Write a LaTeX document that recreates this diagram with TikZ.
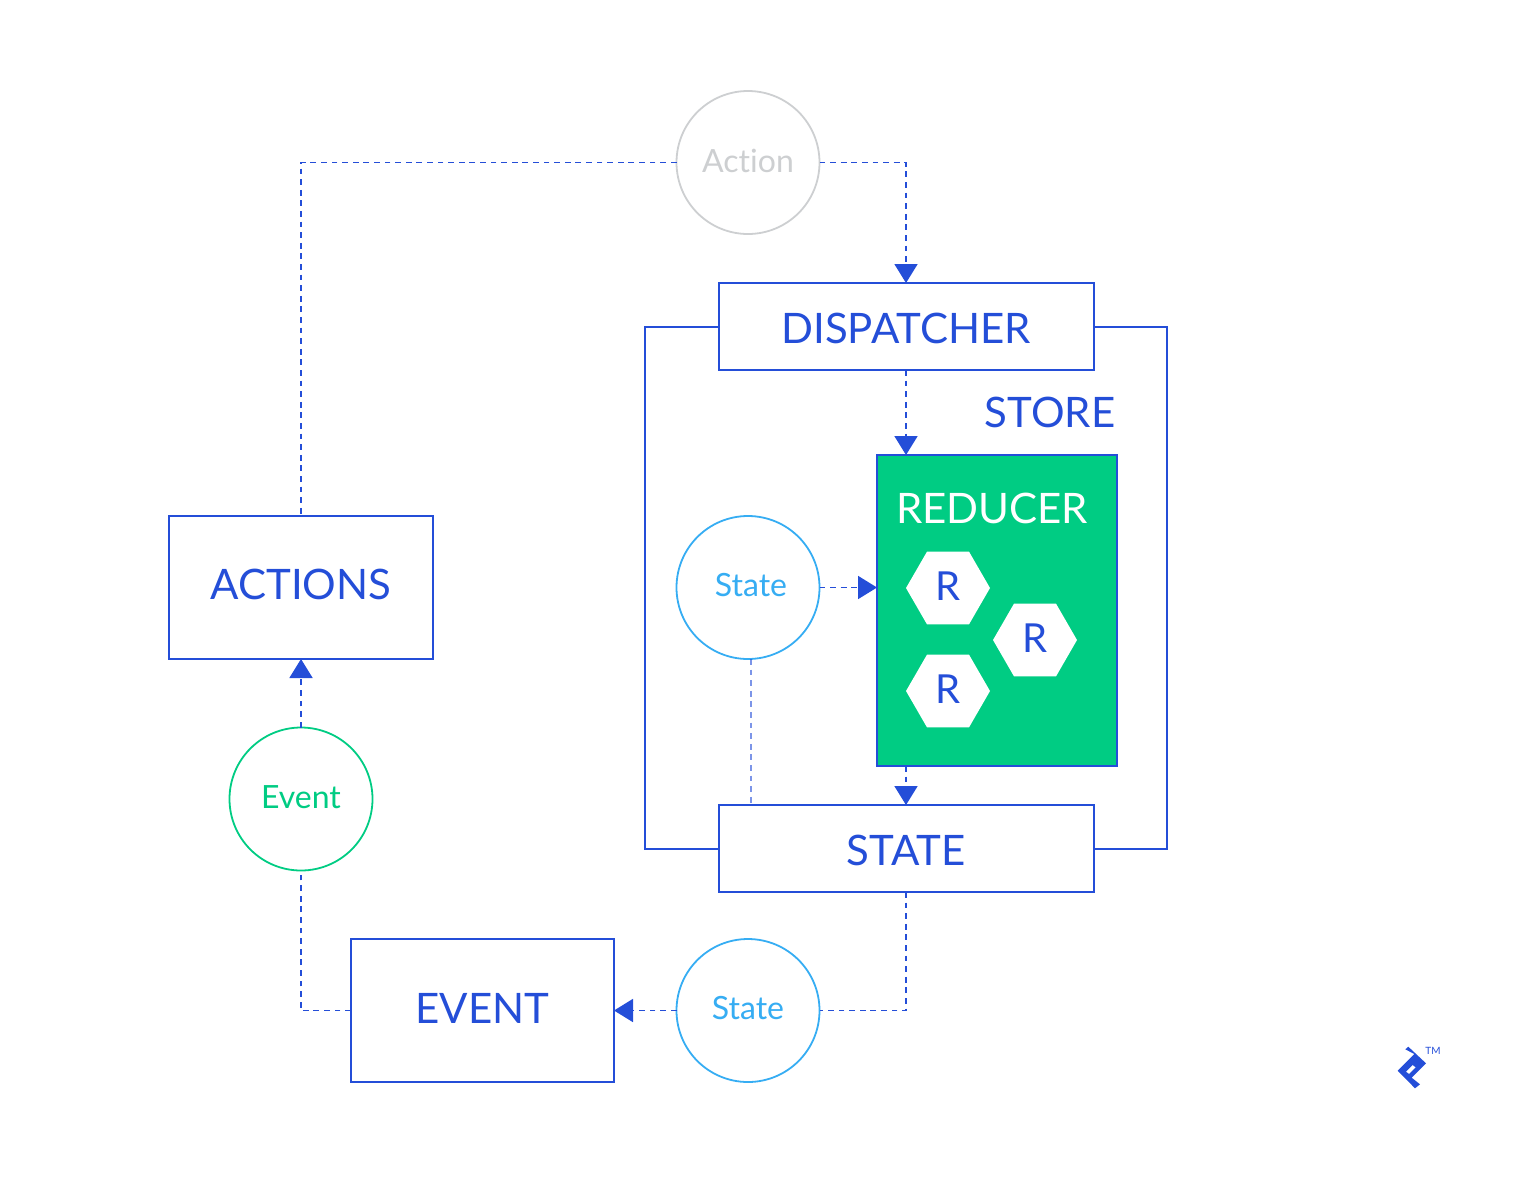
\documentclass[tikz,border=0pt]{standalone}
\usepackage{fontspec}
\setmainfont{Lato}[Ligatures=NoCommon]
\usetikzlibrary{positioning, arrows.meta, shapes.geometric}
\definecolor{fluxblue}{RGB}{36,78,216}
\definecolor{fluxgreen}{RGB}{0,204,131}
\definecolor{fluxsky}{RGB}{54,173,243}
\definecolor{fluxgrey}{RGB}{205,207,209}
% baseline of the text, measured down from the middle of its node
\newcommand{\seat}[2]{\raisebox{-#1}[0pt][0pt]{#2}}

\begin{document}
\begin{tikzpicture}[
    x=0.5pt, y=-0.5pt,
    >={Triangle[width=11.5pt,length=9.5pt]},
    flow/.style={draw=fluxblue, line width=0.9pt, dash pattern=on 2.9pt off 2.4pt},
    wall/.style={draw=fluxblue, line width=1pt},
    block/.style={rectangle, draw=fluxblue, line width=1pt, text=fluxblue, outer sep=0pt,
      font=\fontsize{21pt}{25pt}\selectfont},
    bus/.style={block, minimum width=187.5pt, minimum height=43.5pt},
    source/.style={block, minimum width=132pt, minimum height=71.5pt},
    message/.style={circle, draw, line width=0.9pt, fill=white, minimum size=71.5pt, inner sep=0pt,
      outer sep=0pt, font=\fontsize{16pt}{19pt}\selectfont},
    reducer/.style={regular polygon, regular polygon sides=6, fill=white, minimum size=42pt, inner sep=0pt,
      text=fluxblue, font=\fontsize{20pt}{24pt}\selectfont}
  ]
  \useasboundingbox (0,0) rectangle (1535,1184);

  % --- BOXES ---
  \node[bus] (dispatcher) at (906,326.5) {\seat{8.4pt}{DISPATCHER}};
  \node[bus, below=217.5pt of dispatcher] (state) {\seat{8.4pt}{STATE}};
  \node[source] (actions) at (301,587.5) {\seat{6.1pt}{ACTIONS}};
  \node[source, minimum width=131.5pt] (event) at (482.5,1010.5) {\seat{6.4pt}{EVENT}};
  \node[block, fill=fluxgreen, minimum width=120pt, minimum height=155.5pt] (store) at (997,610.5) {};
  \node[text=fluxblue, font=\fontsize{21pt}{25pt}\selectfont] (storetext) at (1050,412) {STORE};
  \node[text=white, font=\fontsize{21pt}{25pt}\selectfont] (reducertext) at (992,508) {REDUCER};

  % --- HEXAGONS ---
  \node[reducer] (r1) at (948,588) {\seat{6.1pt}{R}};
  \node[reducer] (r2) at (1035,640) {\seat{6.1pt}{R}};
  \node[reducer] (r3) at (948,691) {\seat{6.2pt}{R}};

  % --- CIRCLES ---
  \node[message, draw=fluxgrey, text=fluxgrey] (action) at (748,162.5) {\seat{4.75pt}{Action}};
  \node[message, draw=fluxsky, text=fluxsky] (statein) at (748,587.5) {\hspace{3pt}\seat{4.25pt}{State}};
  \node[message, draw=fluxsky, text=fluxsky] (stateout) at (748,1010.5) {\seat{4.4pt}{State}};
  \node[message, draw=fluxgreen, text=fluxgreen] (eventmsg) at (301,799) {\seat{4.65pt}{Event}};

  % --- STORE WALLS ---
  \draw[wall] (dispatcher.west) -- ++(-73.5,0) |- (state.west);
  \draw[wall] (dispatcher.east) -- ++(73.5,0) |- (state.east);

  % --- DASHED FLOW ---
  \draw[flow] (action.west) -| (actions.north);
  \draw[flow, ->] (action.east) -| (dispatcher.north);
  \draw[flow, ->] (dispatcher.south) -- (dispatcher.south |- store.north);
  \draw[flow, ->] (statein.east) -- (statein.east -| store.west);
  \draw[flow, ->] (dispatcher.south |- store.south) -- (state.north);
  \draw[flow, draw opacity=0.6] ([xshift=1.5pt]statein.south) -- ([xshift=1.5pt]statein.south |- state.north);
  \draw[flow] (state.south) |- (stateout.east);
  \draw[flow, ->] (stateout.west) -- (event.east);
  \draw[flow] (event.west) -| (eventmsg.south);
  \draw[flow, ->] (eventmsg.north) -- (actions.south);

  % --- LOGO ---
  \fill[fluxblue, even odd rule] (1408.3,1046.7) -- (1426,1063.3) -- (1411.7,1077.7) -- (1420,1084.3)
    -- (1415,1088.3) -- (1397.7,1070.7) -- (1414.3,1054) -- (1405.3,1049.3) -- cycle
    (1406,1071.7) -- (1412.7,1065) -- (1415.7,1067.3) -- (1409,1074) -- cycle;
  \node[text=fluxblue, font=\fontsize{5pt}{6pt}\selectfont, inner sep=0pt] (tm) at (1433,1051) {TM};
\end{tikzpicture}
\end{document}
